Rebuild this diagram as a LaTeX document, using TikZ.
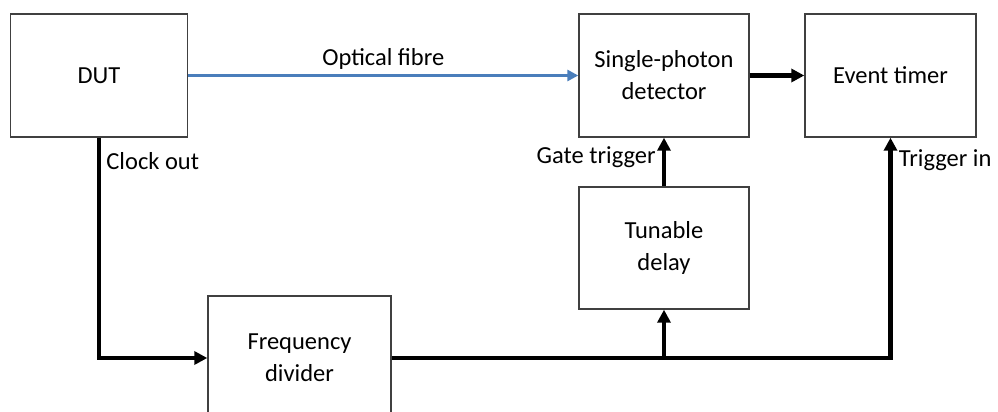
\documentclass[tikz,border=0pt]{standalone}
\usepackage{fontspec}
\setmainfont{Carlito}
\usetikzlibrary{arrows.meta}

\begin{document}
\begin{tikzpicture}
[x=1pt,y=-1pt,
  boxDecorate/.style={shape=rectangle,draw=black!75,line width=1.4pt,align=center,
    font=\fontsize{24.5}{32}\selectfont,inner sep=0pt},
  lineDecorate/.style={line width=4.2pt,-{Triangle[length=13pt,width=13pt]}},
  fibreDecorate/.style={line width=3pt,draw={rgb,255:red,74;green,126;blue,187},
    -{Triangle[length=11pt,width=11pt]}},
  labelDecorate/.style={font=\fontsize{24.5}{28}\selectfont,text=black}]
\clip (0,0) rectangle (998,412);
%% nodes or blocks
\foreach \nodename/\x/\y/\w/\h/\caption in {
  DUT/99/75.5/177/123/{DUT},
  SPD/664/75.5/170/123/{Single-photon\\detector},
  ET/890.5/75.5/171/123/{Event timer},
  TD/664/248/170/122/{Tunable\\delay},
  FD/299.5/358/183/124/{Frequency\\divider}}
{
  \node (\nodename) at (\x,\y) [boxDecorate,minimum width=\w pt,minimum height=\h pt] {\caption};
}
%% connectors
\draw[fibreDecorate] (DUT.east) -- node[above,labelDecorate,yshift=1pt] {Optical fibre} (SPD.west);
\draw[lineDecorate] (SPD.east) -- (ET.west);
\draw[lineDecorate] (DUT.south) |- node[pos=0.052,right,labelDecorate,xshift=2pt] {Clock out} (FD.west);
\draw[lineDecorate] (FD.east) -| node[pos=0.948,right,labelDecorate,xshift=3pt] {Trigger in} (ET.south);
\draw[lineDecorate] (TD.south |- FD.east) -- (TD.south);
\draw[lineDecorate] (TD.north) -- node[pos=0.6,left,labelDecorate,xshift=-3pt] {Gate trigger} (SPD.south);
\end{tikzpicture}
\end{document}
